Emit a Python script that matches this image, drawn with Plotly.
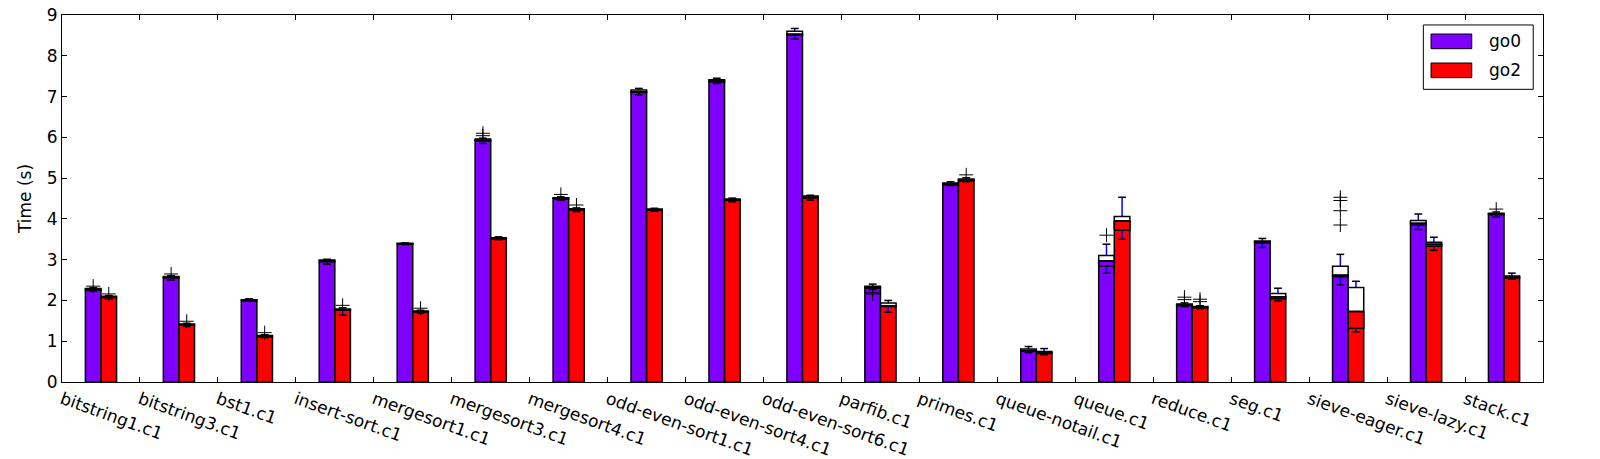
import plotly.graph_objects as go

benchmarks = ["bitstring1.c1", "bitstring3.c1", "bst1.c1", "insert-sort.c1", "mergesort1.c1",
              "mergesort3.c1", "mergesort4.c1", "odd-even-sort1.c1", "odd-even-sort4.c1",
              "odd-even-sort6.c1", "parfib.c1", "primes.c1", "queue-notail.c1", "queue.c1",
              "reduce.c1", "seg.c1", "sieve-eager.c1", "sieve-lazy.c1", "stack.c1"]

# go0 box statistics (seconds)
go0_median = [2.27, 2.57, 2.00, 2.97, 3.39, 5.93, 4.50, 7.12, 7.38, 8.53, 2.31, 4.86, 0.77, 2.97, 1.89, 3.44, 2.62, 3.89, 4.12]
go0_q1 = [2.25, 2.55, 1.99, 2.95, 3.38, 5.91, 4.48, 7.10, 7.36, 8.51, 2.30, 4.84, 0.76, 2.84, 1.87, 3.41, 2.58, 3.85, 4.10]
go0_q3 = [2.29, 2.59, 2.02, 2.99, 3.40, 5.96, 4.52, 7.16, 7.41, 8.60, 2.35, 4.88, 0.81, 3.10, 1.91, 3.46, 2.84, 3.96, 4.14]
go0_lo = [2.23, 2.50, 1.98, 2.89, 3.37, 5.85, 4.46, 7.04, 7.32, 8.41, 2.27, 4.82, 0.72, 2.67, 1.85, 3.30, 2.38, 3.74, 4.04]
go0_hi = [2.31, 2.61, 2.04, 3.01, 3.41, 5.98, 4.54, 7.20, 7.45, 8.67, 2.40, 4.91, 0.87, 3.38, 1.94, 3.52, 3.13, 4.12, 4.17]
go0_fliers = [[2.35], [2.65], [], [], [], [6.04, 6.10], [4.60], [], [], [], [2.20, 2.16], [], [], [3.60],
              [2.02, 2.08], [], [3.85, 4.20, 4.45, 4.53], [], [4.24]]

# go2 box statistics (seconds)
go2_median = [2.08, 1.40, 1.12, 1.77, 1.72, 3.52, 4.23, 4.22, 4.47, 4.53, 1.87, 4.95, 0.72, 3.95, 1.83, 2.09, 1.73, 3.38, 2.57]
go2_q1 = [2.07, 1.39, 1.11, 1.76, 1.71, 3.51, 4.22, 4.21, 4.46, 4.51, 1.85, 4.93, 0.70, 3.72, 1.82, 2.04, 1.32, 3.33, 2.55]
go2_q3 = [2.10, 1.42, 1.14, 1.79, 1.74, 3.54, 4.25, 4.24, 4.49, 4.56, 1.94, 4.98, 0.75, 4.06, 1.85, 2.17, 2.32, 3.43, 2.60]
go2_lo = [2.03, 1.36, 1.09, 1.64, 1.69, 3.49, 4.18, 4.19, 4.42, 4.46, 1.71, 4.91, 0.67, 3.50, 1.80, 1.99, 1.23, 3.23, 2.52]
go2_hi = [2.12, 1.44, 1.16, 1.82, 1.76, 3.56, 4.27, 4.26, 4.51, 4.58, 2.00, 5.01, 0.82, 4.53, 1.87, 2.30, 2.47, 3.55, 2.67]
go2_fliers = [[2.16], [1.49], [1.21], [1.88], [1.81], [], [4.34], [], [], [], [], [5.08], [], [],
              [1.97, 2.03], [], [], [], []]

series = [
    ("go0", "#7f00ff", 0.4, go0_median, go0_q1, go0_q3, go0_lo, go0_hi, go0_fliers),
    ("go2", "#ff0000", 0.6, go2_median, go2_q1, go2_q3, go2_lo, go2_hi, go2_fliers),
]

BW = 0.2   # bar / box width
CW = 0.1   # cap width
FONT = "DejaVu Sans"
FS = 17

fig = go.Figure()

for name, color, off, med, q1, q3, lo, hi, fl in series:
    xs = [i + off for i in range(len(benchmarks))]
    fig.add_trace(go.Bar(x=xs, y=med, width=BW, name=name, marker=dict(color=color, line=dict(color="black", width=1.5)),
                         showlegend=False))

for name, color, off, med, q1, q3, lo, hi, fl in series:
    bx, by, wx, wy, cx, cy, fx, fy = [], [], [], [], [], [], [], []
    for i in range(len(benchmarks)):
        xc = i + off
        l, r = xc - BW / 2, xc + BW / 2
        bx += [l, r, r, l, l, None, l, r, None]
        by += [q1[i], q1[i], q3[i], q3[i], q1[i], None, med[i], med[i], None]
        wx += [xc, xc, None, xc, xc, None]
        wy += [q3[i], hi[i], None, q1[i], lo[i], None]
        cx += [xc - CW / 2, xc + CW / 2, None, xc - CW / 2, xc + CW / 2, None]
        cy += [hi[i], hi[i], None, lo[i], lo[i], None]
        for v in fl[i]:
            fx.append(xc)
            fy.append(v)
    fig.add_trace(go.Scatter(x=wx, y=wy, mode="lines", line=dict(color="blue", width=1.5), showlegend=False, hoverinfo="skip"))
    fig.add_trace(go.Scatter(x=bx, y=by, mode="lines", line=dict(color="black", width=1.5), showlegend=False, hoverinfo="skip"))
    fig.add_trace(go.Scatter(x=cx, y=cy, mode="lines", line=dict(color="black", width=1.5), showlegend=False, hoverinfo="skip"))
    fig.add_trace(go.Scatter(x=fx, y=fy, mode="markers", showlegend=False, hoverinfo="skip",
                             marker=dict(symbol="cross-thin", size=10, line=dict(color="black", width=1))))

# manual legend (matplotlib-style), in paper coordinates of the plot area
shapes = [dict(type="rect", xref="paper", yref="paper", x0=0.9192, x1=0.9934, y0=0.7975, y1=0.9728,
               line=dict(color="black", width=1), fillcolor="white", layer="above")]
annotations = []
patch_y = [(0.9082, 0.9482), (0.8292, 0.8692)]
text_y = [0.9278, 0.8488]
for k, (name, color, *_rest) in enumerate(series):
    shapes.append(dict(type="rect", xref="paper", yref="paper", x0=0.9244, x1=0.9519,
                       y0=patch_y[k][0], y1=patch_y[k][1],
                       line=dict(color="black", width=1), fillcolor=color, layer="above"))
    annotations.append(dict(xref="paper", yref="paper", x=0.9624, y=text_y[k], text=name, showarrow=False,
                            xanchor="left", yanchor="middle", font=dict(family=FONT, size=FS, color="black")))

fig.update_layout(
    width=1600, height=459,
    margin=dict(l=62, r=57, t=15, b=77, autoexpand=False),
    paper_bgcolor="white", plot_bgcolor="white",
    barmode="overlay",
    font=dict(family=FONT, size=FS, color="black"),
    shapes=shapes, annotations=annotations,
    showlegend=False,
)
fig.update_xaxes(range=[0, 19], tickmode="array", tickvals=list(range(len(benchmarks))), ticktext=benchmarks,
                 tickangle=20, ticks="inside", ticklen=5, tickcolor="black", showline=True, linecolor="black",
                 linewidth=1, mirror="allticks", showgrid=False, zeroline=False, automargin=False,
                 tickfont=dict(family=FONT, size=FS))
fig.update_yaxes(range=[0, 9], tickvals=list(range(10)), ticks="inside", ticklen=5, tickcolor="black",
                 showline=True, linecolor="black", linewidth=1, mirror="allticks", showgrid=False, zeroline=False,
                 automargin=False, tickfont=dict(family=FONT, size=FS),
                 title=dict(text="Time (s)", font=dict(family=FONT, size=FS), standoff=10))

fig.write_html("out.html")
